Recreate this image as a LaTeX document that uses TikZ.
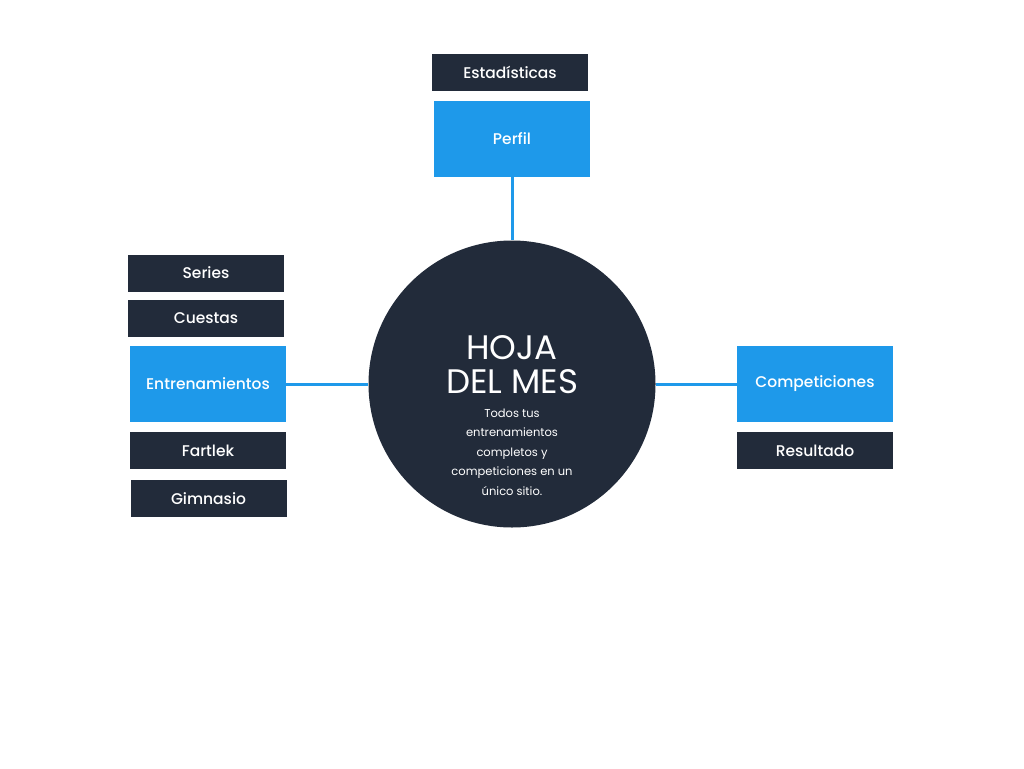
\documentclass[tikz,border=0pt]{standalone}
\usepackage{fontspec}
\setmainfont{Poppins}[UprightFont={* Medium}]
\newfontfamily\plainfont{Poppins}
\definecolor{navy}{HTML}{222B3A}
\definecolor{skyblue}{HTML}{1E99EA}
\tikzset{
    darkbox/.style={fill=navy, text=white, minimum width=156pt, minimum height=37pt, inner sep=0pt, font=\fontsize{15.5}{17}\selectfont},
    bluebox/.style={fill=skyblue, text=white, minimum width=156pt, minimum height=76pt, inner sep=0pt, font=\fontsize{15.5}{17}\selectfont},
    link/.style={draw=skyblue, line width=3pt}
}
\begin{document}
\begin{tikzpicture}[x=1pt, y=-1pt]
    \useasboundingbox (0,0) rectangle (1024,768);
    % branches
    \node[bluebox] (perfil) at (512,139) {Perfil};
    \node[darkbox] (estad) at (510,72.5) {Estadísticas};
    \node[bluebox] (entren) at (208,384) {Entrenamientos};
    \node[darkbox] (series) at (206,273) {Series};
    \node[darkbox] (cuestas) at (206,318.5) {Cuestas};
    \node[darkbox] (fartlek) at (208,450.5) {Fartlek};
    \node[darkbox] (gimnasio) at (208.5,498.5) {Gimnasio};
    \node[bluebox] (compet) at (815,384) {Competiciones};
    \node[darkbox] (result) at (815,450.5) {Resultado};
    % centre
    \node[circle, fill=navy, minimum size=287pt, inner sep=0pt] (hoja) at (512,384) {};
    \node[text=white, align=center, font=\plainfont\fontsize{34}{34}\selectfont] (title) at (512,365) {HOJA\\DEL MES};
    \node[text=white, align=center, font=\plainfont\fontsize{11.5}{19.5}\selectfont] (desc) at (512,452)
        {Todos tus\\entrenamientos\\completos y\\competiciones en un\\único sitio.};
    \draw[link] (perfil.south) -- (hoja.north);
    \draw[link] (entren.east) -- (hoja.west);
    \draw[link] (compet.west) -- (hoja.east);
\end{tikzpicture}
\end{document}
